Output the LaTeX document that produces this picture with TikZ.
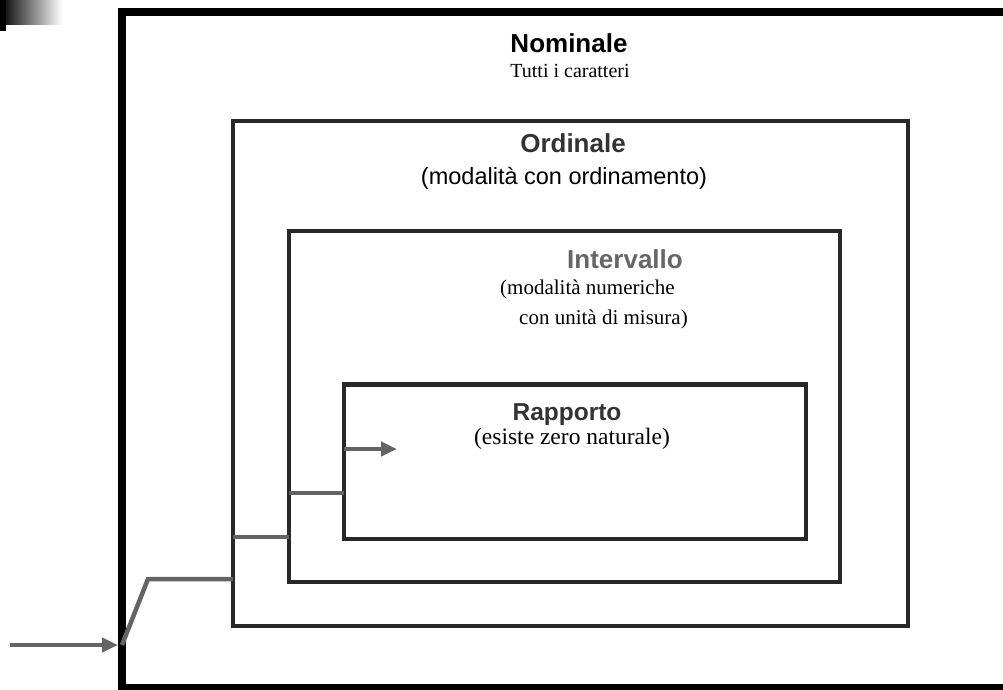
\documentclass[tikz,border=0pt]{standalone}
\usepackage{fontspec}
\setmainfont{Liberation Serif}
\setsansfont{Liberation Sans}
\usetikzlibrary{arrows.meta}
\definecolor{conncol}{RGB}{100,100,100}
\definecolor{boxcol}{RGB}{40,40,40}
\tikzset{
  outerbox/.style={draw=black, line width=8pt, inner sep=0pt, outer sep=0pt},
  levelbox/.style={draw=boxcol, line width=4.5pt, inner sep=0pt, outer sep=0pt},
  conn/.style={draw=conncol, line width=4.5pt, line join=miter},
  tipped/.style={-{Triangle[length=16pt,width=14pt]}},
  head/.style={font=\sffamily\bfseries\fontsize{26}{30}\selectfont, anchor=base, inner sep=0pt},
  sub/.style={font=\rmfamily\fontsize{21}{25}\selectfont, anchor=base, inner sep=0pt},
  subsans/.style={font=\sffamily\fontsize{23.5}{27}\selectfont, anchor=base, inner sep=0pt}
}
\begin{document}
\begin{tikzpicture}[x=1pt,y=-1pt]
\useasboundingbox (0,0) rectangle (1003,690);
\clip (0,0) rectangle (1003,690);
% scanned page mark
\shade[left color=black, right color=white] (0,0) rectangle (62,25);
\fill[black] (0,0) rectangle (6,31);
% boxes
\node[outerbox, minimum width=898pt, minimum height=676pt] (nom) at (571,350) {};
\node[levelbox, minimum width=675pt, minimum height=505pt] (ord) at (570.5,373.5) {};
\node[levelbox, minimum width=551pt, minimum height=351pt] (int) at (564.5,406.5) {};
\node[levelbox, minimum width=462pt, minimum height=154.5pt] (rap) at (575,461.75) {};
% labels
\node[head] (nomT) at (569,53) {Nominale};
\node[sub, font=\rmfamily\fontsize{20}{24}\selectfont] (nomS) at (570,78) {Tutti i caratteri};
\node[head, text=black!80] (ordT) at (573,152) {Ordinale};
\node[subsans] (ordS) at (564,184) {(modalità con ordinamento)};
\node[head, text=black!60] (intT) at (625,268) {Intervallo};
\node[sub, anchor=base west] (intS1) at (500,294) {(modalità numeriche};
\node[sub, anchor=base west] (intS2) at (519,324) {con unità di misura)};
\node[head, font=\sffamily\bfseries\fontsize{24.5}{28}\selectfont, text=black!80] (rapT) at (567,420) {Rapporto};
\node[sub, font=\rmfamily\fontsize{23.5}{27}\selectfont] (rapS) at (572,444) {(esiste zero naturale)};
% connectors
\coordinate (src) at (10,645);
\coordinate (bend) at (148,579);
\coordinate (tgt) at (397,449);
\draw[conn, tipped] (src) -- ([xshift=-4pt]nom.west |- src);
\draw[conn] (nom.west |- src) -- (bend) -- (ord.west |- bend);
\draw[conn] (ord.west |- 0,537) -- (int.west |- 0,537);
\draw[conn] (int.west |- 0,493) -- (rap.west |- 0,493);
\draw[conn, tipped] (rap.west |- tgt) -- (tgt);
\end{tikzpicture}
\end{document}
